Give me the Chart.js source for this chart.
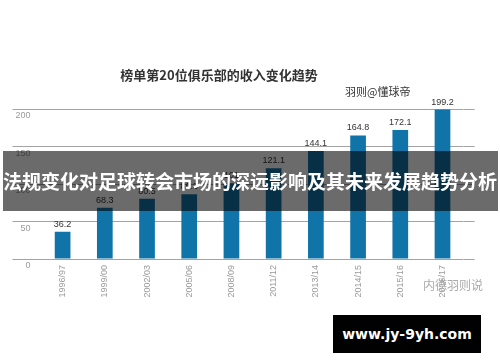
<!DOCTYPE html>
<html>
<head>
<meta charset="utf-8">
<script src="https://cdn.jsdelivr.net/npm/chart.js@4/dist/chart.umd.min.js"></script>
<style>
  html, body { margin: 0; padding: 0; background: #fff; }
  #wrap { position: relative; width: 500px; height: 362px; overflow: hidden; }
  #c { position: absolute; left: 0; top: 0; }
  .txt { position: absolute; white-space: nowrap; font-family: "Noto Sans CJK SC", sans-serif; }
  #title { left: 0; width: 438px; top: 66px; text-align: center; font-size: 13px; font-weight: bold; color: #333; line-height: 18px; }
  #sub { left: 345px; top: 83px; font-size: 11px; color: #333; line-height: 16px; }
  #banner { left: 3px; top: 151px; width: 495px; height: 60px; background: rgba(0,0,0,0.58); }
  #bannerText { left: 0; top: 151px; width: 500px; height: 60px; line-height: 60px; text-align: center; font-size: 19px; font-weight: bold; color: #fff; letter-spacing: 0px; }
  #wm { left: 423px; top: 277px; font-size: 12px; color: #aaa; line-height: 16px; }
  #site { left: 333px; top: 315px; width: 148px; height: 38px; background: #000; color: #fff; font-family: "DejaVu Sans", sans-serif; font-weight: bold; font-size: 14px; line-height: 38px; text-align: center; }
</style>
</head>
<body>
<div id="wrap">
  <canvas id="c" width="500" height="362"></canvas>
  <div class="txt" id="title">榜单第20位俱乐部的收入变化趋势</div>
  <div class="txt" id="sub">羽则@懂球帝</div>
  <div class="txt" id="wm">内德羽则说</div>
  <div class="txt" id="banner"></div>
  <div class="txt" id="bannerText">法规变化对足球转会市场的深远影响及其未来发展趋势分析</div>
  <div class="txt" id="site">www.jy-9yh.com</div>
</div>
<script>
const seasons = ["1996/97", "1999/00", "2002/03", "2005/06", "2008/09", "2011/12", "2013/14", "2014/15", "2015/16", "2016/17"];
const revenue = [36.2, 68.3, 80.5, 86.3, 101, 121.1, 144.1, 164.8, 172.1, 199.2];
const yTicks = [0, 50, 100, 150, 200];

const barColor = "#1174a8";
const gridColor = "#a3a3a3";
const tickColor = "#9a9a9a";
const labelFont = "Liberation Sans";

const valueLabels = {
  id: "valueLabels",
  afterDatasetsDraw(chart) {
    const ctx = chart.ctx;
    const meta = chart.getDatasetMeta(0);
    const data = chart.data.datasets[0].data;
    ctx.save();
    ctx.font = "9px '" + labelFont + "'";
    ctx.fillStyle = "#333";
    ctx.textAlign = "center";
    ctx.textBaseline = "bottom";
    meta.data.forEach((bar, i) => {
      ctx.fillText(String(data[i]), bar.x, bar.y - 3);
    });
    ctx.restore();
  }
};

new Chart(document.getElementById("c"), {
  type: "bar",
  data: {
    labels: seasons,
    datasets: [{
      data: revenue,
      backgroundColor: barColor,
      borderWidth: 0,
      categoryPercentage: 1.0,
      barPercentage: 0.372
    }]
  },
  options: {
    responsive: false,
    animation: false,
    devicePixelRatio: 1,
    layout: { padding: { top: 109, right: 26, left: 0, bottom: 0 } },
    plugins: {
      legend: { display: false },
      tooltip: { enabled: false },
      title: { display: false }
    },
    scales: {
      x: {
        grid: { display: false, drawTicks: false },
        border: { display: false },
        ticks: {
          minRotation: 90, maxRotation: 90, padding: 6,
          color: tickColor,
          font: { family: labelFont, size: 9 }
        },
        afterFit(s) { s.height = 103; }
      },
      y: {
        position: "left",
        min: 0, max: 200,
        afterBuildTicks(s) { s.ticks = yTicks.map(v => ({ value: v })); },
        grid: { color: gridColor, lineWidth: 1, drawTicks: true, tickLength: 29, tickColor: gridColor },
        border: { display: false },
        ticks: {
          padding: -18, labelOffset: 7,
          color: tickColor,
          font: { family: labelFont, size: 9 }
        },
        afterFit(s) { s.width = 41.5; }
      },
      y2: {
        position: "right",
        min: 0, max: 200,
        afterBuildTicks(s) { s.ticks = yTicks.map(v => ({ value: v })); },
        grid: { drawOnChartArea: false, drawTicks: true, tickLength: 11, color: gridColor, tickColor: gridColor },
        border: { display: false },
        ticks: { display: false },
        afterFit(s) { s.width = 10.4; }
      }
    }
  },
  plugins: [valueLabels]
});
</script>
</body>
</html>
